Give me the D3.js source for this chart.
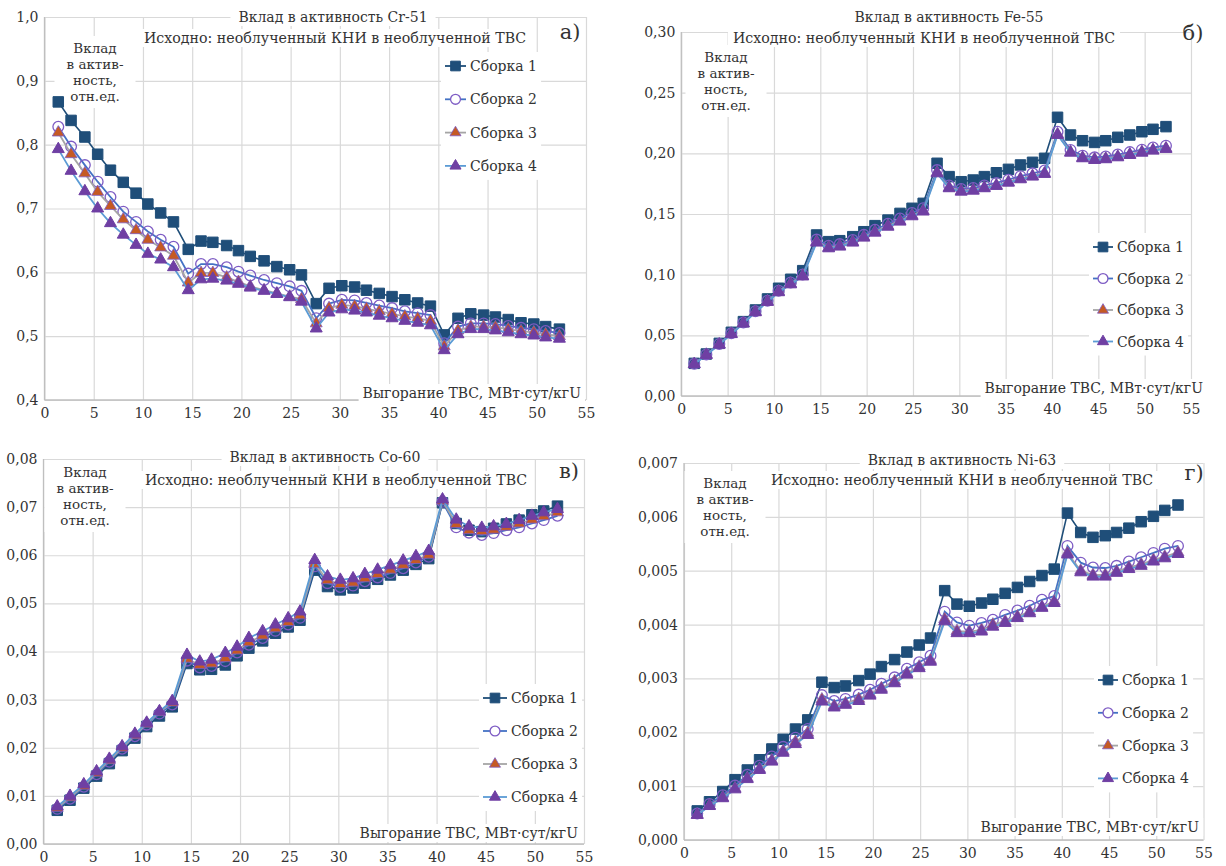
<!DOCTYPE html>
<html>
<head>
<meta charset="utf-8">
<script src="https://cdn.jsdelivr.net/npm/d3@7"></script>
<style>
  body { margin: 0; background: #fff; }
  svg { display: block; font-family: "DejaVu Serif", serif; }
</style>
</head>
<body>
<div id="chart"></div>
<script>
// Burnup points (MW*day/kgU), 4 cycles of 10 points
var burnup = [1.4, 2.7, 4.1, 5.4, 6.7, 8.0, 9.3, 10.5, 11.8, 13.1,
  14.6, 15.9, 17.1, 18.5, 19.7, 20.9, 22.3, 23.6, 24.9, 26.1,
  27.6, 28.9, 30.2, 31.5, 32.7, 34.0, 35.3, 36.6, 37.9, 39.2,
  40.6, 42.0, 43.3, 44.6, 45.8, 47.1, 48.4, 49.7, 50.9, 52.3];

var seriesNames = ["Сборка 1", "Сборка 2", "Сборка 3", "Сборка 4"];
var yLabelLines = ["Вклад", "в актив-", "ность,", "отн.ед."];
var xLabelText = "Выгорание ТВС, МВт·сут/кгU";
var subtitleText = "Исходно: необлученный КНИ в необлученной ТВС";

// Cr-51
var crS1 = [0.867, 0.838, 0.812, 0.785, 0.760, 0.741, 0.724, 0.707, 0.693, 0.679,
  0.636, 0.649, 0.647, 0.642, 0.634, 0.625, 0.618, 0.609, 0.604, 0.596,
  0.551, 0.575, 0.579, 0.577, 0.572, 0.567, 0.562, 0.557, 0.552, 0.547,
  0.502, 0.528, 0.535, 0.533, 0.530, 0.526, 0.521, 0.519, 0.515, 0.511];
var crS2 = [0.828, 0.797, 0.768, 0.742, 0.718, 0.695, 0.679, 0.664, 0.651, 0.640,
  0.598, 0.613, 0.613, 0.608, 0.601, 0.595, 0.588, 0.583, 0.578, 0.571,
  0.528, 0.551, 0.557, 0.556, 0.552, 0.548, 0.544, 0.539, 0.536, 0.533,
  0.489, 0.515, 0.520, 0.520, 0.519, 0.516, 0.513, 0.511, 0.508, 0.505];
var crS3 = [0.819, 0.785, 0.755, 0.726, 0.704, 0.683, 0.666, 0.651, 0.639, 0.626,
  0.584, 0.599, 0.599, 0.592, 0.585, 0.578, 0.572, 0.567, 0.562, 0.558,
  0.520, 0.544, 0.549, 0.547, 0.543, 0.539, 0.535, 0.531, 0.528, 0.524,
  0.484, 0.509, 0.515, 0.515, 0.514, 0.511, 0.508, 0.506, 0.503, 0.500];
var crS4 = [0.793, 0.759, 0.727, 0.700, 0.677, 0.659, 0.643, 0.629, 0.620, 0.608,
  0.572, 0.589, 0.590, 0.587, 0.582, 0.576, 0.571, 0.566, 0.561, 0.554,
  0.512, 0.537, 0.542, 0.540, 0.537, 0.532, 0.528, 0.524, 0.521, 0.517,
  0.478, 0.503, 0.511, 0.511, 0.509, 0.506, 0.503, 0.501, 0.498, 0.496];

// Fe-55
var feS1 = [0.0269, 0.0346, 0.0434, 0.0525, 0.0613, 0.0709, 0.0800, 0.0888, 0.0962, 0.1033,
  0.1327, 0.1272, 0.1280, 0.1313, 0.1354, 0.1404, 0.1450, 0.1505, 0.1547, 0.1588,
  0.1918, 0.1808, 0.1766, 0.1780, 0.1808, 0.1840, 0.1868, 0.1904, 0.1926, 0.1959,
  0.2297, 0.2151, 0.2104, 0.2090, 0.2104, 0.2132, 0.2151, 0.2178, 0.2198, 0.2220];
var feS2 = [0.0266, 0.0343, 0.0429, 0.0517, 0.0605, 0.0699, 0.0786, 0.0868, 0.0935, 0.1002,
  0.1289, 0.1238, 0.1252, 0.1286, 0.1328, 0.1370, 0.1420, 0.1463, 0.1508, 0.1548,
  0.1862, 0.1735, 0.1706, 0.1714, 0.1735, 0.1756, 0.1783, 0.1812, 0.1835, 0.1858,
  0.2178, 0.2028, 0.1981, 0.1967, 0.1974, 0.1990, 0.2010, 0.2030, 0.2048, 0.2063];
var feS3 = [0.0264, 0.0341, 0.0426, 0.0514, 0.0601, 0.0695, 0.0780, 0.0861, 0.0926, 0.0991,
  0.1272, 0.1224, 0.1238, 0.1271, 0.1312, 0.1353, 0.1402, 0.1444, 0.1489, 0.1527,
  0.1842, 0.1718, 0.1690, 0.1698, 0.1718, 0.1737, 0.1764, 0.1792, 0.1814, 0.1837,
  0.2158, 0.2011, 0.1965, 0.1951, 0.1957, 0.1973, 0.1992, 0.2011, 0.2028, 0.2042];
var feS4 = [0.0262, 0.0338, 0.0423, 0.0510, 0.0597, 0.0690, 0.0775, 0.0855, 0.0920, 0.0985,
  0.1264, 0.1217, 0.1231, 0.1264, 0.1305, 0.1346, 0.1395, 0.1437, 0.1481, 0.1520,
  0.1835, 0.1712, 0.1684, 0.1692, 0.1712, 0.1731, 0.1758, 0.1786, 0.1808, 0.1830,
  0.2151, 0.2005, 0.1959, 0.1945, 0.1951, 0.1967, 0.1986, 0.2005, 0.2022, 0.2036];

// Co-60
var coS1 = [0.0070, 0.0091, 0.0116, 0.0141, 0.0167, 0.0194, 0.0220, 0.0244, 0.0266, 0.0285,
  0.0375, 0.0362, 0.0363, 0.0372, 0.0391, 0.0407, 0.0422, 0.0438, 0.0451, 0.0465,
  0.0569, 0.0535, 0.0528, 0.0532, 0.0542, 0.0550, 0.0559, 0.0569, 0.0581, 0.0593,
  0.0709, 0.0666, 0.0652, 0.0649, 0.0656, 0.0665, 0.0673, 0.0684, 0.0692, 0.0702];
var coS2 = [0.0073, 0.0094, 0.0119, 0.0145, 0.0171, 0.0198, 0.0224, 0.0248, 0.0271, 0.0290,
  0.0381, 0.0367, 0.0370, 0.0380, 0.0398, 0.0414, 0.0428, 0.0443, 0.0456, 0.0470,
  0.0577, 0.0542, 0.0534, 0.0537, 0.0546, 0.0554, 0.0563, 0.0573, 0.0585, 0.0597,
  0.0711, 0.0658, 0.0647, 0.0642, 0.0646, 0.0652, 0.0658, 0.0666, 0.0673, 0.0682];
var coS3 = [0.0075, 0.0097, 0.0121, 0.0148, 0.0174, 0.0200, 0.0226, 0.0250, 0.0274, 0.0294,
  0.0385, 0.0372, 0.0375, 0.0386, 0.0402, 0.0419, 0.0433, 0.0448, 0.0461, 0.0475,
  0.0582, 0.0548, 0.0540, 0.0543, 0.0552, 0.0561, 0.0570, 0.0580, 0.0590, 0.0601,
  0.0713, 0.0665, 0.0652, 0.0650, 0.0653, 0.0659, 0.0666, 0.0674, 0.0681, 0.0689];
var coS4 = [0.0078, 0.0100, 0.0124, 0.0151, 0.0177, 0.0203, 0.0229, 0.0252, 0.0276, 0.0297,
  0.0393, 0.0379, 0.0383, 0.0397, 0.0410, 0.0428, 0.0442, 0.0456, 0.0469, 0.0483,
  0.0590, 0.0556, 0.0549, 0.0552, 0.0561, 0.0570, 0.0579, 0.0589, 0.0598, 0.0609,
  0.0716, 0.0674, 0.0660, 0.0657, 0.0660, 0.0665, 0.0673, 0.0682, 0.0689, 0.0696];

// Ni-63
var niS1 = [0.00054, 0.00071, 0.00090, 0.00112, 0.00130, 0.00149, 0.00169, 0.00187, 0.00206, 0.00223,
  0.00293, 0.00283, 0.00286, 0.00296, 0.00308, 0.00322, 0.00335, 0.00349, 0.00362, 0.00375,
  0.00463, 0.00438, 0.00434, 0.00440, 0.00447, 0.00458, 0.00469, 0.00480, 0.00491, 0.00503,
  0.00607, 0.00571, 0.00562, 0.00565, 0.00571, 0.00579, 0.00591, 0.00601, 0.00612, 0.00622];
var niS2 = [0.00049, 0.00067, 0.00083, 0.00101, 0.00121, 0.00138, 0.00155, 0.00173, 0.00190, 0.00206,
  0.00269, 0.00258, 0.00262, 0.00270, 0.00279, 0.00290, 0.00302, 0.00318, 0.00330, 0.00342,
  0.00424, 0.00404, 0.00398, 0.00403, 0.00409, 0.00418, 0.00426, 0.00435, 0.00446, 0.00453,
  0.00546, 0.00515, 0.00506, 0.00505, 0.00509, 0.00517, 0.00525, 0.00533, 0.00541, 0.00546];
var niS3 = [0.00047, 0.00064, 0.00079, 0.00096, 0.00115, 0.00132, 0.00148, 0.00165, 0.00182, 0.00199,
  0.00261, 0.00249, 0.00254, 0.00262, 0.00271, 0.00282, 0.00295, 0.00310, 0.00322, 0.00334,
  0.00410, 0.00388, 0.00387, 0.00390, 0.00400, 0.00406, 0.00415, 0.00424, 0.00433, 0.00443,
  0.00533, 0.00500, 0.00492, 0.00492, 0.00499, 0.00506, 0.00512, 0.00520, 0.00526, 0.00534];
var niS4 = [0.000465, 0.00063, 0.000775, 0.00094, 0.00113, 0.00130, 0.001455, 0.00162, 0.00178, 0.00195,
  0.00257, 0.00246, 0.00251, 0.00258, 0.00268, 0.00279, 0.00291, 0.00307, 0.00319, 0.00331,
  0.00406, 0.00384, 0.00384, 0.00387, 0.00396, 0.00403, 0.00412, 0.00421, 0.00431, 0.00440,
  0.00530, 0.00497, 0.00489, 0.00489, 0.00496, 0.00503, 0.00509, 0.00517, 0.00523, 0.00531];

var width = 1226;
var height = 866;

// line colours and marker styles per series
var lineColours = ["#1f4e79", "#4472c4", "#a5a5a5", "#5b9bd5"];
var markers = [
  { type: d3.symbolSquare, size: 110, fill: "#1f4e79", stroke: "#1f4e79", sw: 1 },
  { type: d3.symbolCircle, size: 90, fill: "none", stroke: "#7e5cc4", sw: 1.3 },
  { type: d3.symbolTriangle, size: 62, fill: "#c55a24", stroke: "#7e5cc4", sw: 0.8 },
  { type: d3.symbolTriangle, size: 62, fill: "#6f3fa3", stroke: "#6f3fa3", sw: 1 }
];

var panels = [
  { left: 44.5, right: 586, top: 17, bottom: 400, yMin: 0.4, yMax: 1.0, yStep: 0.1, dec: 1,
    data: [crS1, crS2, crS3, crS4], title: "Вклад в активность Cr-51",
    titleX: 333, titleY: 22, subX: 335, subY: 43, letter: "а)", letterX: 570, letterY: 39,
    yLabX: 95, yLabY: 53, legX: 455.5, legY: 66, legDy: 33.3, legLen: 21,
    xLabX: 581, xLabY: 398 },
  { left: 681.3, right: 1191, top: 32, bottom: 396, yMin: 0, yMax: 0.30, yStep: 0.05, dec: 2,
    data: [feS1, feS2, feS3, feS4], title: "Вклад в активность Fe-55",
    titleX: 949, titleY: 22, subX: 924, subY: 43, letter: "б)", letterX: 1193, letterY: 40,
    yLabX: 726, yLabY: 62, legX: 1103, legY: 247, legDy: 31.5, legLen: 20,
    xLabX: 1203, xLabY: 393 },
  { left: 43.5, right: 584, top: 459, bottom: 844, yMin: 0, yMax: 0.08, yStep: 0.01, dec: 2,
    data: [coS1, coS2, coS3, coS4], title: "Вклад в активность Co-60",
    titleX: 325, titleY: 462, subX: 336, subY: 485, letter: "в)", letterX: 569, letterY: 478,
    yLabX: 85, yLabY: 477, legX: 495, legY: 698, legDy: 33, legLen: 24,
    xLabX: 578, xLabY: 838 },
  { left: 684, right: 1203.5, top: 463, bottom: 840, yMin: 0, yMax: 0.007, yStep: 0.001, dec: 3,
    data: [niS1, niS2, niS3, niS4], title: "Вклад в активность Ni-63",
    titleX: 962, titleY: 465, subX: 962, subY: 485, letter: "г)", letterX: 1194, letterY: 480,
    yLabX: 725, yLabY: 488, legX: 1108, legY: 680, legDy: 32.8, legLen: 20,
    xLabX: 1199, xLabY: 832 }
];

var svg = d3.select("#chart").append("svg")
  .attr("width", width)
  .attr("height", height)
  .attr("xmlns", "http://www.w3.org/2000/svg")
  .attr("viewBox", "0 0 " + width + " " + height);

// text with a white box behind it (covers gridlines like the original)
function boxedText(parent, x, y, text, size, anchor, pad) {
  var g = parent.append("g");
  var t = g.append("text")
    .attr("x", x).attr("y", y)
    .attr("text-anchor", anchor)
    .attr("font-size", size)
    .attr("fill", "#333")
    .text(text);
  var b = t.node().getBBox();
  g.insert("rect", "text")
    .attr("x", b.x - pad).attr("y", b.y - 1)
    .attr("width", b.width + 2 * pad).attr("height", b.height + 2)
    .attr("fill", "#fff");
  return g;
}

function drawPanel(p) {
  var scaleX = d3.scaleLinear().domain([0, 55]).range([p.left, p.right]);
  var scaleY = d3.scaleLinear().domain([p.yMin, p.yMax]).range([p.bottom, p.top]);
  var nY = Math.round((p.yMax - p.yMin) / p.yStep);
  var yTicks = d3.range(nY + 1).map(function (i) { return p.yMin + i * p.yStep; });
  var xTicks = d3.range(0, 56, 5);
  var fmt = function (v) { return v.toFixed(p.dec).replace(".", ","); };

  var g = svg.append("g").attr("class", "panel");

  // gridlines
  var gx = g.append("g")
    .attr("transform", "translate(0," + p.bottom + ")")
    .call(d3.axisBottom(scaleX).tickValues(xTicks).tickSize(-(p.bottom - p.top)).tickFormat(""));
  var gy = g.append("g")
    .attr("transform", "translate(" + p.left + ",0)")
    .call(d3.axisLeft(scaleY).tickValues(yTicks).tickSize(-(p.right - p.left)).tickFormat(""));
  [gx, gy].forEach(function (a) {
    a.select(".domain").remove();
    a.selectAll("line").attr("stroke", "#d9d9d9").attr("stroke-width", 1.2);
  });

  // axis lines
  g.append("line").attr("x1", p.left).attr("x2", p.left).attr("y1", p.top).attr("y2", p.bottom)
    .attr("stroke", "#bfbfbf").attr("stroke-width", 1.3);
  g.append("line").attr("x1", p.left).attr("x2", p.right).attr("y1", p.bottom).attr("y2", p.bottom)
    .attr("stroke", "#bfbfbf").attr("stroke-width", 1.3);

  // tick labels
  var ax = g.append("g")
    .attr("transform", "translate(0," + p.bottom + ")")
    .call(d3.axisBottom(scaleX).tickValues(xTicks).tickSize(0).tickPadding(8).tickFormat(d3.format("d")));
  var ay = g.append("g")
    .attr("transform", "translate(" + p.left + ",0)")
    .call(d3.axisLeft(scaleY).tickValues(yTicks).tickSize(0).tickPadding(6).tickFormat(fmt));
  [ax, ay].forEach(function (a) {
    a.select(".domain").remove();
    a.selectAll("text")
      .attr("font-family", "DejaVu Serif, serif")
      .attr("font-size", 14)
      .attr("fill", "#333");
  });

  // titles (boxed, drawn before the data so the markers stay visible)
  boxedText(g, p.titleX, p.titleY, p.title, 14, "middle", 8);
  boxedText(g, p.subX, p.subY, subtitleText, 14.2, "middle", 5);

  // panel letter
  g.append("text")
    .attr("x", p.letterX).attr("y", p.letterY)
    .attr("text-anchor", "middle")
    .attr("font-size", 21)
    .attr("fill", "#333")
    .text(p.letter);

  // y label block
  var yl = g.append("g");
  var ylt = yl.append("text")
    .attr("text-anchor", "middle")
    .attr("font-size", 13.5)
    .attr("fill", "#333");
  yLabelLines.forEach(function (s, i) {
    ylt.append("tspan").attr("x", p.yLabX).attr("y", p.yLabY + i * 16).text(s);
  });
  var yb = ylt.node().getBBox();
  yl.insert("rect", "text")
    .attr("x", yb.x - 12).attr("y", yb.y - 4)
    .attr("width", yb.width + 24).attr("height", yb.height + 8)
    .attr("fill", "#fff");

  // x label
  boxedText(g, p.xLabX, p.xLabY, xLabelText, 14, "end", 4);

  // legend
  var leg = g.append("g");
  var legItems = leg.selectAll("g")
    .data(seriesNames)
    .enter().append("g")
    .attr("transform", function (d, i) { return "translate(" + p.legX + "," + (p.legY + i * p.legDy) + ")"; });
  legItems.append("line")
    .attr("x1", -p.legLen / 2).attr("x2", p.legLen / 2)
    .attr("stroke", function (d, i) { return lineColours[i]; })
    .attr("stroke-width", 1.8);
  legItems.append("path")
    .attr("d", function (d, i) { return d3.symbol().type(markers[i].type).size(markers[i].size * 0.85)(); })
    .attr("fill", function (d, i) { return markers[i].fill === "none" ? "#fff" : markers[i].fill; })
    .attr("stroke", function (d, i) { return markers[i].stroke; })
    .attr("stroke-width", function (d, i) { return markers[i].sw; });
  legItems.append("text")
    .attr("x", p.legLen / 2 + 4)
    .attr("y", 5)
    .attr("font-size", 14)
    .attr("fill", "#333")
    .text(function (d) { return d; });
  var lb = leg.node().getBBox();
  leg.insert("rect", "g")
    .attr("x", lb.x - 4).attr("y", lb.y - 6)
    .attr("width", lb.width + 8).attr("height", lb.height + 12)
    .attr("fill", "#fff");

  // series
  var line = d3.line()
    .x(function (d) { return scaleX(d[0]); })
    .y(function (d) { return scaleY(d[1]); });

  p.data.forEach(function (vals, si) {
    var pts = vals.map(function (v, i) { return [burnup[i], v]; });
    g.append("path")
      .datum(pts)
      .attr("d", line)
      .attr("fill", "none")
      .attr("stroke", lineColours[si])
      .attr("stroke-width", si === 0 ? 1.6 : 1.8);
    var m = markers[si];
    g.selectAll(".m" + si)
      .data(pts)
      .enter()
      .append("path")
      .attr("class", "m" + si)
      .attr("d", d3.symbol().type(m.type).size(m.size))
      .attr("transform", function (d) { return "translate(" + scaleX(d[0]) + "," + scaleY(d[1]) + ")"; })
      .attr("fill", m.fill)
      .attr("stroke", m.stroke)
      .attr("stroke-width", m.sw);
  });
}

panels.forEach(drawPanel);
</script>
</body>
</html>
